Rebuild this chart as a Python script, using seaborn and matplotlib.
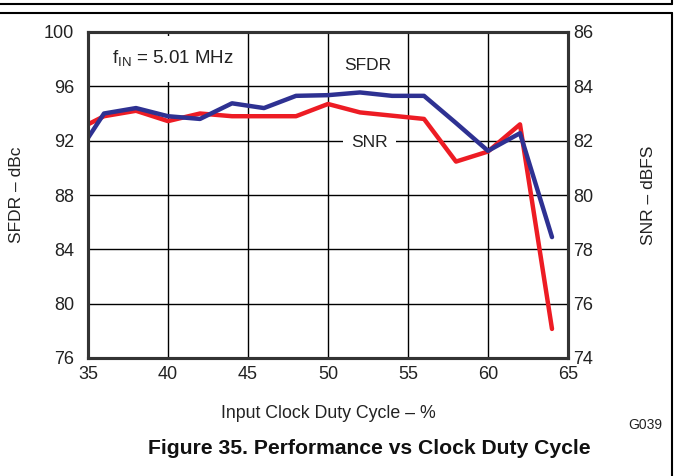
import numpy as np
import pandas as pd
import seaborn as sns
import matplotlib.pyplot as plt
from matplotlib.lines import Line2D

# valores
duty = [35, 36, 38, 40, 42, 44, 46, 48, 50, 52, 54, 56, 58, 60, 62, 64]
sfdr = [92.2, 94.0, 94.4, 93.8, 93.6, 94.75, 94.4, 95.3, 95.35, 95.55, 95.3, 95.3, 93.3, 91.25, 92.55, 84.9]
snr = [82.6, 82.9, 83.1, 82.72, 83.0, 82.9, 82.9, 82.9, 83.35, 83.04, 82.92, 82.8, 81.23, 81.6, 82.6, 75.07]

xticks = [35, 40, 45, 50, 55, 60, 65]
sfdr_ticks = [76, 80, 84, 88, 92, 96, 100]
snr_ticks = [74, 76, 78, 80, 82, 84, 86]

sns.set_style("white")
plt.rcParams['font.family'] = ['Liberation Sans', 'DejaVu Sans']

fig = plt.figure(figsize=(6.77, 4.76), dpi=100)
ax = fig.add_axes([88/677, 1-358/476, 480/677, 326/476])
ax2 = ax.twinx()

# SFDR na frente, grade no eixo de trás
ax.set_zorder(ax2.get_zorder() + 1)
ax.patch.set_visible(False)

dados = pd.DataFrame({'Duty': duty, 'SFDR': sfdr, 'SNR': snr})
sns.lineplot(x='Duty', y='SNR', data=dados, ax=ax2, color="#ED1C24", linewidth=3.2)
sns.lineplot(x='Duty', y='SFDR', data=dados, ax=ax, color="#2E3192", linewidth=3.2)

ax.set_xlim(35, 65)
ax.set_ylim(76, 100)
ax2.set_ylim(74, 86)
ax.set_xticks(xticks)
ax.set_yticks(sfdr_ticks)
ax2.set_yticks(snr_ticks)

# grade desenhada no eixo de trás (abaixo das linhas)
ax2.xaxis.set_visible(True)
ax2.set_xlabel("")
ax2.tick_params(axis='x', labelbottom=False, labeltop=False, length=0)
ax2.grid(True, axis='both', color="black", linewidth=1)
ax.grid(False)

ax.tick_params(axis='both', length=0, labelsize=13, colors="#222222")
ax.tick_params(axis='y', pad=10)
ax.tick_params(axis='x', pad=6)
ax2.tick_params(axis='y', length=0, labelsize=13, colors="#222222", pad=4)

for a in (ax, ax2):
    for s in a.spines.values():
        s.set_linewidth(2.2)
        s.set_color("#333333")

ax.set_xlabel("Input Clock Duty Cycle – %", fontsize=12.8, color="#222222")
ax.set_ylabel("SFDR – dBc", fontsize=12.5, color="#222222")
ax2.set_ylabel("SNR – dBFS", fontsize=12.5, color="#222222", rotation=90)
ax.xaxis.set_label_coords(0.5, -0.144)
ax.yaxis.set_label_coords(-0.133, 0.5)
ax2.yaxis.set_label_coords(1.152, 0.5)

ax.text(36.5, 98.0, "f$_{\\mathregular{IN}}$ = 5.01 MHz", fontsize=13.5, va='center', ha='left',
        color="#222222", bbox=dict(facecolor="white", edgecolor="none", pad=9), zorder=5)
caixa = dict(facecolor="white", edgecolor="none", pad=6)
ax.text(52.5, 97.5, "SFDR", fontsize=12.5, va='center', ha='center', color="#222222", bbox=caixa, zorder=5)
ax.text(52.6, 91.9, "SNR", fontsize=12.5, va='center', ha='center', color="#222222", bbox=caixa, zorder=5)

fig.text(645/677, 1-425/476, "G039", fontsize=10, ha='center', va='center', color="#222222")
fig.text(369/677, 1-449/476, "Figure 35. Performance vs Clock Duty Cycle", fontsize=15.2,
         fontweight='bold', ha='center', va='center', color="#111111")

# moldura da página
fig.add_artist(Line2D([0, 672/677], [1-4/476, 1-4/476], color="black", linewidth=1.5))
fig.add_artist(Line2D([672/677, 672/677], [1, 1-4/476], color="black", linewidth=1.5))
fig.add_artist(Line2D([0, 672/677], [1-13/476, 1-13/476], color="black", linewidth=1.5))
fig.add_artist(Line2D([672/677, 672/677], [1-13/476, 0], color="black", linewidth=1.5))

plt.savefig('out.png', dpi=100)
